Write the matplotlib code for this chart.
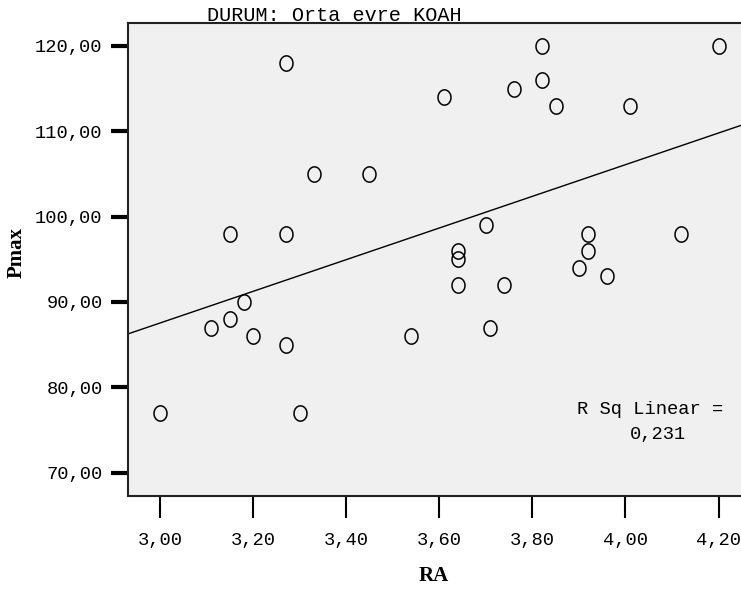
import numpy as np
import matplotlib
matplotlib.use("Agg")
import matplotlib.pyplot as plt
from matplotlib.path import Path
from matplotlib.ticker import FuncFormatter

# RA vs Pmax, group "Orta evre KOAH"
ra = [3.00, 3.11, 3.15, 3.15, 3.18, 3.20, 3.27, 3.27, 3.27, 3.30,
      3.33, 3.45, 3.54, 3.61, 3.64, 3.64, 3.64, 3.70, 3.71, 3.74,
      3.76, 3.82, 3.82, 3.85, 3.90, 3.92, 3.92, 3.96, 4.01, 4.12, 4.20]
pmax = [77, 87, 88, 98, 90, 86, 85, 98, 118, 77,
        105, 105, 86, 114, 92, 95, 96, 99, 87, 92,
        115, 116, 120, 113, 94, 96, 98, 93, 113, 98, 120]

x_ticks = [3.0, 3.2, 3.4, 3.6, 3.8, 4.0, 4.2]
y_ticks = [70, 80, 90, 100, 110, 120]
title = "DURUM: Orta evre KOAH"
r2_text = "0,231"

W, H = 741, 599
fig = plt.figure(figsize=(W / 100, H / 100), dpi=100)
fig.patch.set_facecolor("white")

# axes box runs past the right edge of the picture, like the original export
left, right, top, bottom = 127.7, 760, 23.3, 495.7
ax = fig.add_axes([left / W, 1 - bottom / H, (right - left) / W, (bottom - top) / H])
ax.set_facecolor("#F0F0F0")

# slightly tall open ellipse marker
t = np.linspace(0, 2 * np.pi, 40)
ell = Path(np.column_stack([0.85 * np.cos(t), np.sin(t)]), closed=True)

ax.plot(ra, pmax, linestyle="none", marker=ell, markersize=11,
        markerfacecolor="none", markeredgecolor="black", markeredgewidth=1.1)

# linear fit line
slope, icpt = np.polyfit(ra, pmax, 1)
xl = np.array([2.9, 4.4])
ax.plot(xl, slope * xl + icpt, color="black", linewidth=1.0)

ax.set_xlim(2.9306, 4.289)
ax.set_ylim(67.3, 122.66)

mono = "Liberation Mono"
fmt = FuncFormatter(lambda v, p: f"{v:.2f}".replace(".", ","))
ax.set_xticks(x_ticks)
ax.set_yticks(y_ticks)
ax.xaxis.set_major_formatter(fmt)
ax.yaxis.set_major_formatter(fmt)
ax.tick_params(axis="x", length=16, width=1.5, pad=10, labelsize=13.5)
ax.tick_params(axis="y", length=12, width=3, pad=6, labelsize=13.5)
for lab in ax.get_xticklabels() + ax.get_yticklabels():
    lab.set_fontfamily(mono)

for s in ax.spines.values():
    s.set_linewidth(1.5)
    s.set_color("#222222")

ax.set_xlabel("RA", fontfamily="Liberation Serif", fontweight="bold", fontsize=15)
ax.set_ylabel("Pmax", fontfamily="Liberation Serif", fontweight="bold", fontsize=15)
ax.xaxis.set_label_coords((434 - left) / (right - left), -(566 - bottom) / (bottom - top))
ax.yaxis.set_label_coords(-(left - 27) / (right - left), (bottom - 252) / (bottom - top))

fig.text(207 / W, 1 - 21 / H, title, fontfamily=mono, fontsize=14.5,
         ha="left", va="baseline")

fig.text(577 / W, 1 - 410 / H, "R Sq Linear =", fontfamily=mono, fontsize=13.5,
         ha="left", va="center")
fig.text(658 / W, 1 - 435 / H, r2_text, fontfamily=mono, fontsize=13.5,
         ha="center", va="center")

fig.savefig("out.png", dpi=100)
